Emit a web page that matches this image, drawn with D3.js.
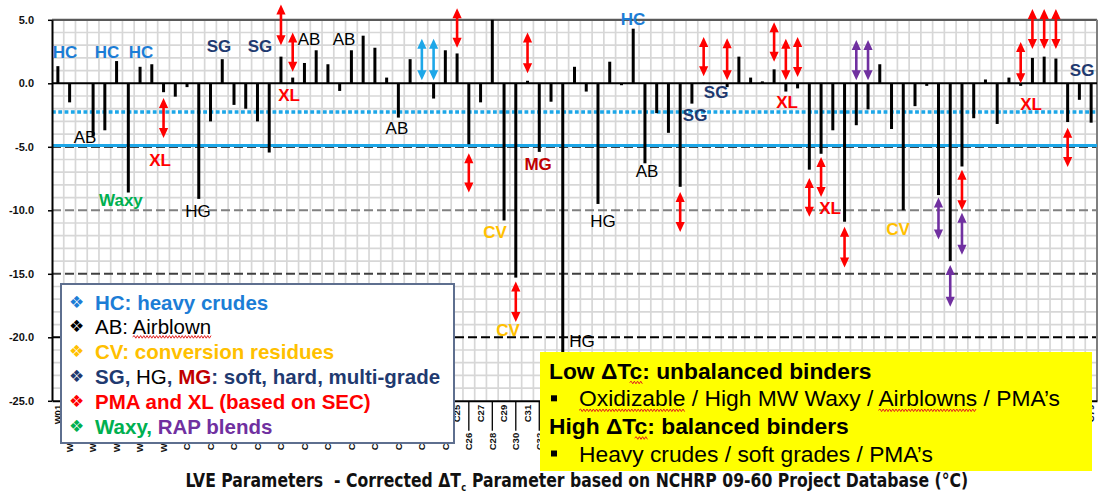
<!DOCTYPE html>
<html><head><meta charset="utf-8">
<script src="https://cdn.jsdelivr.net/npm/d3@7"></script>
<style>
body{margin:0;background:#fff;}
svg{display:block;}
text{white-space:pre;}
</style></head><body>
<svg id="chart" width="1102" height="493"></svg>
<script>
// ---------------- DATA ----------------
const categories = [
 "W01","W02","W03","W04","W05","W06","W07","W08","W09","W10",
 "C01","C02","C03","C04","C05","C06","C07","C08","C09","C10",
 "C11","C12","C13","C14","C15","C16","C17","C18","C19","C20",
 "C21","C22","C23","C24","C25","C26","C27","C28","C29","C30",
 "C31","C32","C33","C34","C35","C36","C37","C38","C39","C40",
 "C41","C42","C43","C44","C45","C46","C47","C48","C49","C50",
 "C51","C52","C53","C54","C55","C56","C57","C58","C59","C60",
 "C61","C62","C63","C64","C65","C66","C67","C68","C69","C70",
 "C71","C72","C73","C74","C75","C76","C77","C78","C79"
];
const deltaTc = [
 1.35,-1.5,null,-4.2,-3.7,1.75,-8.6,1.3,1.5,-0.7,
 -1.05,-0.3,-9.1,-3.0,1.9,-1.7,-2.0,-3.0,-5.45,2.1,
 0.45,1.6,2.6,1.5,-0.6,2.6,3.75,2.8,0.45,-2.7,
 1.9,0.05,-1.2,2.6,2.35,-4.8,-1.5,5.0,-10.8,-15.3,
 0.2,-5.4,-1.45,-21.5,1.3,-0.65,-9.5,1.7,-0.15,4.3,
 -6.3,-2.35,-3.9,-8.15,-1.6,0.05,null,-0.3,2.1,0.45,
 0.15,1.1,-0.65,-0.4,-6.8,-5.55,-3.7,-10.9,-3.3,-2.05,
 1.5,-3.6,-10.0,-1.8,-0.2,-8.8,-14.0,-6.55,-2.75,0.3,
 -3.2,0.45,-0.2,2.0,2.1,1.95,-3.05,-1.3,-3.1
];
const yTicks = [5,0,-5,-10,-15,-20,-25];
const dottedRef = -2.25;   // light blue dotted reference
const solidRef = -4.9;     // light blue solid reference

// arrow annotations (bar index, from value, to value, group)
const arrowIdx   = [9,19,20,31,32,34,35,39,40,53,55,57,61,62,63,64,65,67,68,69,75,76,77,77,82,83,84,85,86];
const arrowFrom  = [-1.15,6.2,4.0,3.5,3.5,5.9,-5.5,-15.6,4.0,-8.55,3.65,3.55,4.8,3.5,3.65,-7.45,-5.8,-11.3,3.4,3.4,-9.0,-14.3,-6.8,-10.2,3.25,5.85,5.85,5.85,-3.5];
const arrowTo    = [-4.3,3.0,0.9,0.25,0.25,2.8,-8.6,-18.8,0.8,-11.7,0.55,0.25,1.7,0.25,0.5,-10.5,-8.95,-14.5,0.25,0.25,-12.3,-17.6,-10.0,-13.5,0.0,2.7,2.7,2.7,-6.6];
const arrowGroup = ["pma","pma","pma","hc","hc","pma","pma","pma","pma","pma","pma","pma","pma","pma","pma","pma","pma","pma","rap","rap","rap","rap","pma","rap","pma","pma","pma","pma","pma"];

// text annotations (label, bar-index position, value position, group)
const noteText  = ["HC","HC","HC","SG","SG","XL","AB","AB","AB","AB","XL","Waxy","HG","HC","SG","SG","XL","AB","HG","HG","MG","CV","CV","CV","XL","XL","SG"];
const noteIdx   = [0.6,4.18,7.08,13.72,17.21,19.69,21.39,24.37,28.88,2.31,8.7,5.37,11.93,48.99,56.06,54.27,62.1,50.18,46.43,44.64,40.9,37.23,38.34,71.56,65.77,82.89,87.23];
const noteVal   = [2.46,2.46,2.46,2.86,2.86,-0.98,3.41,3.41,-3.52,-4.23,-6.04,-9.19,-10.06,5.06,-0.76,-2.57,-1.54,-6.91,-10.85,-20.3,-6.43,-11.72,-19.43,-11.48,-9.82,-1.63,0.97];
const noteGroup = ["hc","hc","hc","sg","sg","pma","ab","ab","ab","ab","pma","waxy","hg","hc","sg","sg","pma","ab","hg","hg","mg","cv","cv","cv","pma","pma","sg"];

// legend lines: segments [text, group, squiggle]
const legendBullets = ["hc","ab","cv","sg","pma","waxy"];
const legendLines = [
 [["HC: heavy crudes","hc"]],
 [["AB: ","ab"],["Airblown","ab",true]],
 [["CV: conversion residues","cv"]],
 [["SG","sg"],[", ","sg"],["HG","hg"],[", ","sg"],["MG","mg"],[": soft, hard, multi-grade","sg"]],
 [["PMA and XL (based on SEC)","pma"]],
 [["Waxy, ","waxy"],["RAP blends","rap"]]
];
// yellow note box lines: [segments, bold, bullet]
const boxLines = [
 [[["Low ΔT",false],["c",true],[": unbalanced binders",false]], true, false],
 [[["Oxidizable",true],[" / High MW Waxy / ",false],["Airblowns",true],[" / PMA’s",false]], false, true],
 [[["High ΔT",false],["c",true],[": balanced binders",false]], true, false],
 [[["Heavy crudes / soft grades / PMA’s",false]], false, true]
];
const titleParts = ["LVE Parameters  - Corrected ΔT","c"," Parameter based on NCHRP 09-60 Project Database (°C)"];

// ---------------- STYLE ----------------
const colors = {hc:"#1c7dd6", ab:"#000000", cv:"#ffc000", sg:"#1f3a70", hg:"#000000",
  mg:"#c00000", pma:"#ff0000", waxy:"#00b050", rap:"#7030a0", ref:"#1da7e8"};
const arrowColors = {pma:"#ff0000", hc:"#1da7e8", rap:"#7030a0"};
const boldGroups = new Set(["hc","sg","pma","waxy","cv","mg","rap"]);

const svg = d3.select("#chart");
const pL = 52, pR = 1097, pT = 19.8, pB = 400.8;
const x = d3.scaleBand().domain(categories).range([pL, pR]);
const bw = x.bandwidth();
const xi = d3.scaleLinear().domain([0, categories.length - 1]).range([pL + bw/2, pR - bw/2]);
const y = d3.scaleLinear().domain([-25, 5]).range([pB, pT]);

// minor grid
const grid = svg.append("g");
grid.selectAll("line.h").data(d3.range(-24, 5).filter(v => v % 5 !== 0)).join("line")
  .attr("x1", pL).attr("x2", pR).attr("y1", d => y(d)).attr("y2", d => y(d))
  .attr("stroke", "#d7d7d7").attr("stroke-width", 1.7);
grid.selectAll("line.v").data(categories.slice(1)).join("line")
  .attr("x1", d => x(d)).attr("x2", d => x(d)).attr("y1", pT).attr("y2", pB)
  .attr("stroke", "#d7d7d7").attr("stroke-width", 1.7);

// major lines
const majors = [[-5,"#000"],[-10,"#808080"],[-15,"#404040"],[-20,"#000"]];
const gm = svg.append("g");
gm.selectAll("line").data(majors).join("line")
  .attr("x1", pL).attr("x2", pR).attr("y1", d => y(d[0])).attr("y2", d => y(d[0]))
  .attr("stroke", d => d[1]).attr("stroke-width", 2).attr("stroke-dasharray", "9,4");
gm.append("line").attr("x1", pL).attr("x2", pR).attr("y1", y(5)).attr("y2", y(5))
  .attr("stroke", "#595959").attr("stroke-width", 2.2);
gm.append("line").attr("x1", pR).attr("x2", pR).attr("y1", pT).attr("y2", pB)
  .attr("stroke", "#7f7f7f").attr("stroke-width", 2);
gm.append("line").attr("x1", pL).attr("x2", pR).attr("y1", y(0)).attr("y2", y(0))
  .attr("stroke", "#000").attr("stroke-width", 2);

// reference lines
svg.append("line").attr("x1", pL).attr("x2", pR).attr("y1", y(dottedRef)).attr("y2", y(dottedRef))
  .attr("stroke", colors.ref).attr("stroke-width", 3.5).attr("stroke-dasharray", "3.8,2.5");
svg.append("line").attr("x1", pL).attr("x2", pR).attr("y1", y(solidRef)).attr("y2", y(solidRef))
  .attr("stroke", colors.ref).attr("stroke-width", 3);

// bars
svg.append("g").selectAll("rect").data(categories.map((c, i) => [c, deltaTc[i]]).filter(d => d[1] !== null))
  .join("rect")
  .attr("x", d => x(d[0]) + bw/2 - 1.5).attr("width", 3)
  .attr("y", d => y(Math.max(0, d[1]))).attr("height", d => Math.abs(y(d[1]) - y(0)))
  .attr("fill", "#000");

// y axis
const yax = svg.append("g").attr("transform", `translate(${pL},0)`)
  .call(d3.axisLeft(y).tickValues(yTicks).tickFormat(d => d.toFixed(1)).tickSize(4).tickSizeOuter(0).tickPadding(14));
yax.select(".domain").attr("stroke", "#000").attr("stroke-width", 2);
yax.selectAll(".tick line").attr("stroke", "#000").attr("stroke-width", 1.5);
yax.selectAll(".tick text").attr("font-family", "'Liberation Sans Narrow','Liberation Sans',Arial,sans-serif")
  .attr("font-size", 11).attr("font-weight", "bold").attr("fill", "#111");

// x axis
const xax = svg.append("g").attr("transform", `translate(0,${pB})`)
  .call(d3.axisBottom(x).tickSize(0).tickSizeOuter(0));
xax.select(".domain").attr("stroke", "#000").attr("stroke-width", 2);
xax.selectAll(".tick text")
  .attr("x", 0).attr("y", 0).attr("dy", "0.35em")
  .attr("transform", (d, i) => `translate(0,${i % 2 ? 32 : 4}) rotate(-90)`)
  .attr("text-anchor", "end")
  .attr("font-family", "'Liberation Sans Narrow','Liberation Sans',Arial,sans-serif")
  .attr("font-size", 9.5).attr("font-weight", "bold").attr("fill", "#111");
xax.selectAll(".tick").filter((d, i) => i % 2 === 1).append("line")
  .attr("x1", 0).attr("x2", 0).attr("y1", 1).attr("y2", 30).attr("stroke", "#000").attr("stroke-width", 1.3);

// arrows
const ag = svg.append("g");
arrowIdx.forEach((idx, k) => {
  const xp = xi(idx);
  const y1 = Math.min(y(arrowFrom[k]), y(arrowTo[k])), y2 = Math.max(y(arrowFrom[k]), y(arrowTo[k]));
  const col = arrowColors[arrowGroup[k]];
  const head = 10, hw = 4.6;
  ag.append("line").attr("x1", xp).attr("x2", xp).attr("y1", y1 + head - 1).attr("y2", y2 - head + 1)
    .attr("stroke", col).attr("stroke-width", 2.6);
  ag.append("path").attr("d", `M${xp},${y1}L${xp-hw},${y1+head}L${xp+hw},${y1+head}Z M${xp},${y2}L${xp-hw},${y2-head}L${xp+hw},${y2-head}Z`)
    .attr("fill", col);
});

// text annotations
svg.append("g").selectAll("text").data(noteText).join("text")
  .attr("x", (d, i) => xi(noteIdx[i])).attr("y", (d, i) => y(noteVal[i]))
  .attr("text-anchor", "middle").attr("dominant-baseline", "central")
  .attr("font-family", "'Liberation Sans',Arial,sans-serif").attr("font-size", 17)
  .attr("font-weight", (d, i) => boldGroups.has(noteGroup[i]) ? "bold" : "normal")
  .attr("fill", (d, i) => colors[noteGroup[i]])
  .text(d => d);

function squiggle(x0, x1, yy) {
  let p = `M${x0},${yy}`, up = true;
  for (let xx = x0 + 1.6; xx <= x1; xx += 1.6) { p += `L${xx},${yy + (up ? -1.3 : 1.3)}`; up = !up; }
  return p;
}

// legend
const lg = svg.append("g");
lg.append("rect").attr("x", 61).attr("y", 284).attr("width", 393).attr("height", 159)
  .attr("fill", "#fff").attr("stroke", "#5e6f8f").attr("stroke-width", 2);
legendLines.forEach((segs, k) => {
  const cy = 301.5 + k * 24.9;
  lg.append("text").attr("x", 76.5).attr("y", cy).attr("text-anchor", "middle").attr("dominant-baseline", "central")
    .attr("font-family", "'DejaVu Sans',sans-serif").attr("font-size", 17).attr("fill", colors[legendBullets[k]]).text("❖");
  const t = lg.append("text").attr("x", 95).attr("y", cy).attr("dominant-baseline", "central")
    .attr("font-family", "'Liberation Sans',Arial,sans-serif").attr("font-size", 20.5);
  segs.forEach(s => {
    const ts = t.append("tspan").attr("fill", colors[s[1]])
      .attr("font-weight", boldGroups.has(s[1]) ? "bold" : "normal").text(s[0]);
    if (s[2]) ts.attr("class", "sq");
  });
  t.selectAll("tspan.sq").each(function() {
    const b = this.getBBox();
    lg.append("path").attr("d", squiggle(b.x, b.x + b.width, b.y + b.height - 1))
      .attr("fill", "none").attr("stroke", "#e02020").attr("stroke-width", 1);
  });
});

// yellow note box
const ybx = svg.append("g");
ybx.append("rect").attr("x", 540).attr("y", 352).attr("width", 552).attr("height", 119).attr("fill", "#ffff00");
boxLines.forEach((ln, k) => {
  const cy = [370.5, 398.3, 426, 453.5][k];
  const bold = ln[1], bullet = ln[2];
  if (bullet) ybx.append("rect").attr("x", 551).attr("y", cy - 3).attr("width", 6).attr("height", 6).attr("fill", "#000");
  const t = ybx.append("text").attr("x", bullet ? 579 : 549).attr("y", cy).attr("dominant-baseline", "central")
    .attr("font-family", "'Liberation Sans',Arial,sans-serif").attr("font-size", 22.8)
    .attr("font-weight", bold ? "bold" : "normal").attr("fill", "#000");
  ln[0].forEach(s => { const ts = t.append("tspan").text(s[0]); if (s[1]) ts.attr("class", "sq"); });
  t.selectAll("tspan.sq").each(function() {
    const b = this.getBBox();
    ybx.append("path").attr("d", squiggle(b.x, b.x + b.width, b.y + b.height - 1))
      .attr("fill", "none").attr("stroke", "#e02020").attr("stroke-width", 1);
  });
});

// title: three adjacent pieces (main, subscript, rest), scaled to the reference width
const tg = svg.append("g");
const tFont = "'Liberation Sans Narrow','DejaVu Sans Condensed','Liberation Sans',Arial,sans-serif";
let cx = 0;
titleParts.forEach((s, k) => {
  const sub = k === 1;
  const t = tg.append("text").attr("x", cx).attr("y", sub ? 4 : 0)
    .attr("font-family", tFont).attr("font-size", sub ? 10 : 19).attr("font-weight", "bold")
    .attr("fill", "#111").text(s);
  cx += t.node().getComputedTextLength() + (sub ? 0.5 : 0);
});
const titleW = 783, sx = titleW / cx;
tg.attr("transform", `translate(${577 - titleW/2},487) scale(${sx},1)`);
</script>
</body></html>
